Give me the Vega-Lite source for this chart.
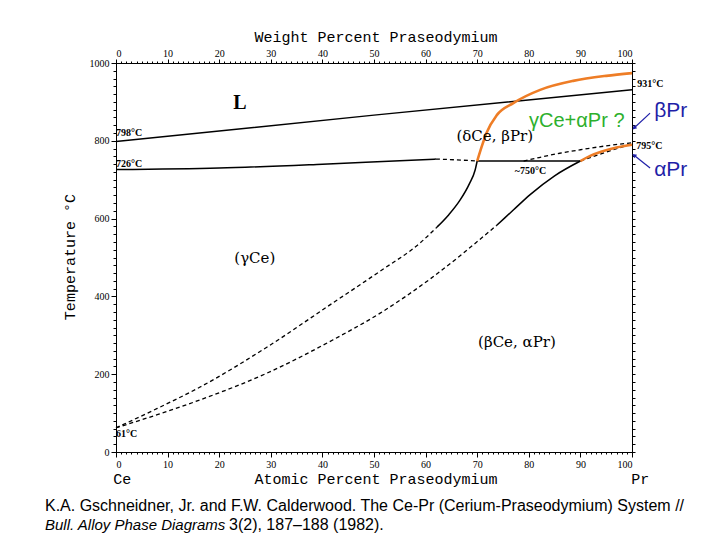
{
  "$schema": "https://vega.github.io/schema/vega-lite/v6.json",
  "width": 516,
  "height": 389,
  "autosize": {"type": "none"},
  "padding": {"left": 116, "top": 63, "right": 88, "bottom": 88},
  "background": "white",
  "config": {
    "view": {"stroke": "black", "strokeWidth": 1},
    "axis": {"grid": false, "domainColor": "black", "tickColor": "black", "labelColor": "black", "labelFont": "Liberation Serif", "labelFontSize": 10, "domainWidth": 1, "tickWidth": 1}
  },
  "datasets": {
    "curves": [
      {"curve": "liquidus", "kind": "solid", "x": 0, "T": 798},
      {"curve": "liquidus", "kind": "solid", "x": 50, "T": 866},
      {"curve": "liquidus", "kind": "solid", "x": 100, "T": 931},
      {"curve": "gamma_delta", "kind": "solid", "x": 0, "T": 726},
      {"curve": "gamma_delta", "kind": "solid", "x": 20, "T": 730},
      {"curve": "gamma_delta", "kind": "solid", "x": 40, "T": 740},
      {"curve": "gamma_delta", "kind": "solid", "x": 55, "T": 749},
      {"curve": "gamma_delta", "kind": "solid", "x": 62, "T": 753},
      {"curve": "eutectoid", "kind": "solid", "x": 70, "T": 748},
      {"curve": "eutectoid", "kind": "solid", "x": 90, "T": 748},
      {"curve": "left_solvus", "kind": "solid", "x": 62.2, "T": 578},
      {"curve": "left_solvus", "kind": "solid", "x": 64.5, "T": 610},
      {"curve": "left_solvus", "kind": "solid", "x": 66.7, "T": 648},
      {"curve": "left_solvus", "kind": "solid", "x": 68.5, "T": 690},
      {"curve": "left_solvus", "kind": "solid", "x": 69.6, "T": 725},
      {"curve": "left_solvus", "kind": "solid", "x": 70, "T": 748},
      {"curve": "right_solvus", "kind": "solid", "x": 73.8, "T": 583},
      {"curve": "right_solvus", "kind": "solid", "x": 77, "T": 622},
      {"curve": "right_solvus", "kind": "solid", "x": 80.2, "T": 661},
      {"curve": "right_solvus", "kind": "solid", "x": 85, "T": 710},
      {"curve": "right_solvus", "kind": "solid", "x": 90, "T": 748},
      {"curve": "gamma_delta_d", "kind": "dashed", "x": 62, "T": 753},
      {"curve": "gamma_delta_d", "kind": "dashed", "x": 66, "T": 751},
      {"curve": "gamma_delta_d", "kind": "dashed", "x": 70, "T": 748},
      {"curve": "left_solvus_d", "kind": "dashed", "x": 0, "T": 62},
      {"curve": "left_solvus_d", "kind": "dashed", "x": 8, "T": 112},
      {"curve": "left_solvus_d", "kind": "dashed", "x": 16.3, "T": 167},
      {"curve": "left_solvus_d", "kind": "dashed", "x": 29.3, "T": 270},
      {"curve": "left_solvus_d", "kind": "dashed", "x": 42, "T": 383},
      {"curve": "left_solvus_d", "kind": "dashed", "x": 51.2, "T": 465},
      {"curve": "left_solvus_d", "kind": "dashed", "x": 58.9, "T": 537},
      {"curve": "left_solvus_d", "kind": "dashed", "x": 62.2, "T": 578},
      {"curve": "right_solvus_d", "kind": "dashed", "x": 0, "T": 62},
      {"curve": "right_solvus_d", "kind": "dashed", "x": 8, "T": 96},
      {"curve": "right_solvus_d", "kind": "dashed", "x": 16.3, "T": 134},
      {"curve": "right_solvus_d", "kind": "dashed", "x": 29.3, "T": 203},
      {"curve": "right_solvus_d", "kind": "dashed", "x": 42, "T": 288},
      {"curve": "right_solvus_d", "kind": "dashed", "x": 51.2, "T": 357},
      {"curve": "right_solvus_d", "kind": "dashed", "x": 60.9, "T": 445},
      {"curve": "right_solvus_d", "kind": "dashed", "x": 73.8, "T": 583},
      {"curve": "upper_right_d", "kind": "dashed", "x": 79, "T": 748},
      {"curve": "upper_right_d", "kind": "dashed", "x": 82, "T": 757},
      {"curve": "upper_right_d", "kind": "dashed", "x": 86, "T": 768},
      {"curve": "upper_right_d", "kind": "dashed", "x": 90, "T": 777},
      {"curve": "upper_right_d", "kind": "dashed", "x": 95, "T": 787},
      {"curve": "upper_right_d", "kind": "dashed", "x": 100, "T": 795},
      {"curve": "lower_right_d", "kind": "dashed", "x": 90, "T": 748},
      {"curve": "lower_right_d", "kind": "dashed", "x": 95, "T": 771},
      {"curve": "lower_right_d", "kind": "dashed", "x": 100, "T": 792},
      {"curve": "orange_upper", "kind": "proposed", "x": 70, "T": 748},
      {"curve": "orange_upper", "kind": "proposed", "x": 71, "T": 790},
      {"curve": "orange_upper", "kind": "proposed", "x": 71.8, "T": 820},
      {"curve": "orange_upper", "kind": "proposed", "x": 73.8, "T": 866},
      {"curve": "orange_upper", "kind": "proposed", "x": 77, "T": 897},
      {"curve": "orange_upper", "kind": "proposed", "x": 82.2, "T": 931},
      {"curve": "orange_upper", "kind": "proposed", "x": 88.6, "T": 954},
      {"curve": "orange_upper", "kind": "proposed", "x": 95, "T": 967},
      {"curve": "orange_upper", "kind": "proposed", "x": 100, "T": 974},
      {"curve": "orange_lower", "kind": "proposed", "x": 90, "T": 748},
      {"curve": "orange_lower", "kind": "proposed", "x": 92, "T": 762},
      {"curve": "orange_lower", "kind": "proposed", "x": 94, "T": 772},
      {"curve": "orange_lower", "kind": "proposed", "x": 97, "T": 783},
      {"curve": "orange_lower", "kind": "proposed", "x": 100, "T": 790}
    ],
    "labels": [
      {"role": "phase", "text": "(δCe, βPr)", "x": 73.4, "T": 812},
      {"role": "phase", "text": "(γCe)", "x": 26.9, "T": 499},
      {"role": "phase", "text": "(βCe, αPr)", "x": 77.7, "T": 283},
      {"role": "big", "text": "L", "x": 24, "T": 897},
      {"role": "temp", "text": "798°C", "x": 0, "T": 820},
      {"role": "temp", "text": "726°C", "x": 0, "T": 740},
      {"role": "temp", "text": "931°C", "x": 101, "T": 946},
      {"role": "temp", "text": "795°C", "x": 100.8, "T": 787},
      {"role": "temp", "text": "~750°C", "x": 77.3, "T": 722},
      {"role": "temp", "text": "61°C", "x": 0, "T": 46},
      {"role": "axistitle", "text": "Weight Percent Praseodymium", "x": 50.4, "T": 1067},
      {"role": "axistitle", "text": "Atomic Percent Praseodymium", "x": 50.4, "T": -69},
      {"role": "axistitle", "text": "Ce", "x": 1.2, "T": -69},
      {"role": "axistitle", "text": "Pr", "x": 101.6, "T": -69},
      {"role": "green", "text": "γCe+αPr ?", "x": 89.3, "T": 851},
      {"role": "blue", "text": "βPr", "x": 104.3, "T": 877},
      {"role": "blue", "text": "αPr", "x": 104.3, "T": 725},
      {"role": "cite", "text": "K.A. Gschneidner, Jr. and F.W. Calderwood. The Ce-Pr (Cerium-Praseodymium) System //", "x": -13.76, "T": -138},
      {"role": "citeitalic", "text": "Bull. Alloy Phase Diagrams", "x": -13.76, "T": -188},
      {"role": "cite2", "text": "3(2), 187–188 (1982).", "x": 21.9, "T": -188},
      {"role": "ytitle", "text": "Temperature °C", "x": -8.9, "T": 501}
    ],
    "arrows": [
      {"arrow": "beta", "x": 103.5, "T": 871, "x2": 100.4, "T2": 833},
      {"arrow": "alpha", "x": 103.5, "T": 730, "x2": 100.4, "T2": 763}
    ]
  },
  "resolve": {"axis": {"x": "independent", "y": "independent"}},
  "layer": [
    {
      "data": {"name": "curves"},
      "transform": [{"filter": "datum.kind === 'solid'"}],
      "mark": {"type": "line", "color": "black", "strokeWidth": 1.5, "interpolate": "monotone"},
      "encoding": {
        "detail": {"field": "curve"},
        "x": {"field": "x", "type": "quantitative", "scale": {"domain": [0, 100], "nice": false, "zero": false},
          "axis": {"orient": "bottom", "title": null, "values": [0, 10, 20, 30, 40, 50, 60, 70, 80, 90, 100], "format": "d", "tickSize": 5, "labelPadding": 2}},
        "y": {"field": "T", "type": "quantitative", "scale": {"domain": [0, 1000], "nice": false, "zero": false},
          "axis": {"orient": "left", "title": null, "values": [0, 200, 400, 600, 800, 1000], "format": "d", "tickSize": 5, "labelPadding": 2}}
      }
    },
    {
      "data": {"name": "curves"},
      "transform": [{"filter": "datum.kind === 'dashed'"}],
      "mark": {"type": "line", "color": "black", "strokeWidth": 1.3, "strokeDash": [4, 3], "interpolate": "monotone"},
      "encoding": {
        "detail": {"field": "curve"},
        "x": {"field": "x", "type": "quantitative", "scale": {"domain": [0, 100], "nice": false, "zero": false},
          "axis": {"orient": "top", "title": null, "values": [0, 10, 20, 30, 40, 50, 60, 70, 80, 90, 100], "format": "d", "tickSize": 4, "labelPadding": 1}},
        "y": {"field": "T", "type": "quantitative", "scale": {"domain": [0, 1000], "nice": false, "zero": false},
          "axis": {"orient": "right", "title": null, "labels": false, "tickSize": 3, "values": [0, 20, 40, 60, 80, 100, 120, 140, 160, 180, 200, 220, 240, 260, 280, 300, 320, 340, 360, 380, 400, 420, 440, 460, 480, 500, 520, 540, 560, 580, 600, 620, 640, 660, 680, 700, 720, 740, 760, 780, 800, 820, 840, 860, 880, 900, 920, 940, 960, 980, 1000]}}
      }
    },
    {
      "data": {"name": "curves"},
      "transform": [{"filter": "datum.kind === 'proposed'"}],
      "mark": {"type": "line", "color": "#EE7D26", "strokeWidth": 2.6, "interpolate": "monotone"},
      "encoding": {
        "detail": {"field": "curve"},
        "x": {"field": "x", "type": "quantitative", "scale": {"domain": [0, 100], "nice": false, "zero": false},
          "axis": {"orient": "bottom", "title": null, "labels": false, "domain": false, "tickSize": 2, "values": [0, 1, 2, 3, 4, 5, 6, 7, 8, 9, 10, 11, 12, 13, 14, 15, 16, 17, 18, 19, 20, 21, 22, 23, 24, 25, 26, 27, 28, 29, 30, 31, 32, 33, 34, 35, 36, 37, 38, 39, 40, 41, 42, 43, 44, 45, 46, 47, 48, 49, 50, 51, 52, 53, 54, 55, 56, 57, 58, 59, 60, 61, 62, 63, 64, 65, 66, 67, 68, 69, 70, 71, 72, 73, 74, 75, 76, 77, 78, 79, 80, 81, 82, 83, 84, 85, 86, 87, 88, 89, 90, 91, 92, 93, 94, 95, 96, 97, 98, 99, 100]}},
        "y": {"field": "T", "type": "quantitative", "scale": {"domain": [0, 1000], "nice": false, "zero": false},
          "axis": {"orient": "left", "title": null, "labels": false, "domain": false, "tickSize": 3, "values": [0, 20, 40, 60, 80, 100, 120, 140, 160, 180, 200, 220, 240, 260, 280, 300, 320, 340, 360, 380, 400, 420, 440, 460, 480, 500, 520, 540, 560, 580, 600, 620, 640, 660, 680, 700, 720, 740, 760, 780, 800, 820, 840, 860, 880, 900, 920, 940, 960, 980, 1000]}}
      }
    },
    {
      "data": {"name": "arrows"},
      "mark": {"type": "rule", "color": "#1F1FA8", "strokeWidth": 1.2},
      "encoding": {
        "x": {"field": "x", "type": "quantitative", "scale": {"domain": [0, 100], "nice": false, "zero": false},
          "axis": {"orient": "top", "title": null, "labels": false, "domain": false, "tickSize": 2, "values": [0, 1, 2, 3, 4, 5, 6, 7, 8, 9, 10, 11, 12, 13, 14, 15, 16, 17, 18, 19, 20, 21, 22, 23, 24, 25, 26, 27, 28, 29, 30, 31, 32, 33, 34, 35, 36, 37, 38, 39, 40, 41, 42, 43, 44, 45, 46, 47, 48, 49, 50, 51, 52, 53, 54, 55, 56, 57, 58, 59, 60, 61, 62, 63, 64, 65, 66, 67, 68, 69, 70, 71, 72, 73, 74, 75, 76, 77, 78, 79, 80, 81, 82, 83, 84, 85, 86, 87, 88, 89, 90, 91, 92, 93, 94, 95, 96, 97, 98, 99, 100]}},
        "y": {"field": "T", "type": "quantitative", "scale": {"domain": [0, 1000], "nice": false, "zero": false}, "axis": null},
        "x2": {"field": "x2"},
        "y2": {"field": "T2"}
      }
    },
    {
      "data": {"name": "arrows"},
      "transform": [{"filter": "datum.arrow === 'beta'"}],
      "mark": {"type": "point", "shape": "triangle-up", "filled": true, "color": "#1F1FA8", "size": 22, "angle": 225, "opacity": 1},
      "encoding": {
        "x": {"field": "x2", "type": "quantitative", "scale": {"domain": [0, 100], "nice": false, "zero": false}, "axis": null},
        "y": {"field": "T2", "type": "quantitative", "scale": {"domain": [0, 1000], "nice": false, "zero": false}, "axis": null}
      }
    },
    {
      "data": {"name": "arrows"},
      "transform": [{"filter": "datum.arrow === 'alpha'"}],
      "mark": {"type": "point", "shape": "triangle-up", "filled": true, "color": "#1F1FA8", "size": 22, "angle": 309, "opacity": 1},
      "encoding": {
        "x": {"field": "x2", "type": "quantitative", "scale": {"domain": [0, 100], "nice": false, "zero": false}, "axis": null},
        "y": {"field": "T2", "type": "quantitative", "scale": {"domain": [0, 1000], "nice": false, "zero": false}, "axis": null}
      }
    },
    {
      "data": {"name": "labels"},
      "transform": [{"filter": "datum.role === 'phase'"}],
      "mark": {"type": "text", "font": "DejaVu Serif", "fontSize": 15, "color": "black", "align": "center", "baseline": "middle"},
      "encoding": {
        "x": {"field": "x", "type": "quantitative", "scale": {"domain": [0, 100], "nice": false, "zero": false}, "axis": null},
        "y": {"field": "T", "type": "quantitative", "scale": {"domain": [0, 1000], "nice": false, "zero": false}, "axis": null},
        "text": {"field": "text"}
      }
    },
    {
      "data": {"name": "labels"},
      "transform": [{"filter": "datum.role === 'big'"}],
      "mark": {"type": "text", "font": "Liberation Serif", "fontSize": 20, "fontWeight": "bold", "color": "black", "align": "center", "baseline": "middle"},
      "encoding": {
        "x": {"field": "x", "type": "quantitative", "scale": {"domain": [0, 100], "nice": false, "zero": false}, "axis": null},
        "y": {"field": "T", "type": "quantitative", "scale": {"domain": [0, 1000], "nice": false, "zero": false}, "axis": null},
        "text": {"field": "text"}
      }
    },
    {
      "data": {"name": "labels"},
      "transform": [{"filter": "datum.role === 'temp'"}],
      "mark": {"type": "text", "font": "Liberation Serif", "fontSize": 10, "fontWeight": "bold", "color": "black", "align": "left", "baseline": "middle"},
      "encoding": {
        "x": {"field": "x", "type": "quantitative", "scale": {"domain": [0, 100], "nice": false, "zero": false}, "axis": null},
        "y": {"field": "T", "type": "quantitative", "scale": {"domain": [0, 1000], "nice": false, "zero": false}, "axis": null},
        "text": {"field": "text"}
      }
    },
    {
      "data": {"name": "labels"},
      "transform": [{"filter": "datum.role === 'axistitle'"}],
      "mark": {"type": "text", "font": "Liberation Mono", "fontSize": 15, "color": "black", "align": "center", "baseline": "middle"},
      "encoding": {
        "x": {"field": "x", "type": "quantitative", "scale": {"domain": [0, 100], "nice": false, "zero": false}, "axis": null},
        "y": {"field": "T", "type": "quantitative", "scale": {"domain": [0, 1000], "nice": false, "zero": false}, "axis": null},
        "text": {"field": "text"}
      }
    },
    {
      "data": {"name": "labels"},
      "transform": [{"filter": "datum.role === 'ytitle'"}],
      "mark": {"type": "text", "font": "Liberation Mono", "fontSize": 15, "color": "black", "align": "center", "baseline": "middle", "angle": 270},
      "encoding": {
        "x": {"field": "x", "type": "quantitative", "scale": {"domain": [0, 100], "nice": false, "zero": false}, "axis": null},
        "y": {"field": "T", "type": "quantitative", "scale": {"domain": [0, 1000], "nice": false, "zero": false}, "axis": null},
        "text": {"field": "text"}
      }
    },
    {
      "data": {"name": "labels"},
      "transform": [{"filter": "datum.role === 'green'"}],
      "mark": {"type": "text", "font": "Liberation Sans", "fontSize": 20, "color": "#2DB02D", "align": "center", "baseline": "middle"},
      "encoding": {
        "x": {"field": "x", "type": "quantitative", "scale": {"domain": [0, 100], "nice": false, "zero": false}, "axis": null},
        "y": {"field": "T", "type": "quantitative", "scale": {"domain": [0, 1000], "nice": false, "zero": false}, "axis": null},
        "text": {"field": "text"}
      }
    },
    {
      "data": {"name": "labels"},
      "transform": [{"filter": "datum.role === 'blue'"}],
      "mark": {"type": "text", "font": "Liberation Sans", "fontSize": 21, "color": "#1F1FA8", "align": "left", "baseline": "middle"},
      "encoding": {
        "x": {"field": "x", "type": "quantitative", "scale": {"domain": [0, 100], "nice": false, "zero": false}, "axis": null},
        "y": {"field": "T", "type": "quantitative", "scale": {"domain": [0, 1000], "nice": false, "zero": false}, "axis": null},
        "text": {"field": "text"}
      }
    },
    {
      "data": {"name": "labels"},
      "transform": [{"filter": "datum.role === 'cite'"}],
      "mark": {"type": "text", "font": "Liberation Sans", "fontSize": 16, "color": "black", "align": "left", "baseline": "middle"},
      "encoding": {
        "x": {"field": "x", "type": "quantitative", "scale": {"domain": [0, 100], "nice": false, "zero": false}, "axis": null},
        "y": {"field": "T", "type": "quantitative", "scale": {"domain": [0, 1000], "nice": false, "zero": false}, "axis": null},
        "text": {"field": "text"}
      }
    },
    {
      "data": {"name": "labels"},
      "transform": [{"filter": "datum.role === 'cite2'"}],
      "mark": {"type": "text", "font": "Liberation Sans", "fontSize": 16, "color": "black", "align": "left", "baseline": "middle"},
      "encoding": {
        "x": {"field": "x", "type": "quantitative", "scale": {"domain": [0, 100], "nice": false, "zero": false}, "axis": null},
        "y": {"field": "T", "type": "quantitative", "scale": {"domain": [0, 1000], "nice": false, "zero": false}, "axis": null},
        "text": {"field": "text"}
      }
    },
    {
      "data": {"name": "labels"},
      "transform": [{"filter": "datum.role === 'citeitalic'"}],
      "mark": {"type": "text", "font": "Liberation Sans", "fontSize": 15, "fontStyle": "italic", "color": "black", "align": "left", "baseline": "middle"},
      "encoding": {
        "x": {"field": "x", "type": "quantitative", "scale": {"domain": [0, 100], "nice": false, "zero": false}, "axis": null},
        "y": {"field": "T", "type": "quantitative", "scale": {"domain": [0, 1000], "nice": false, "zero": false}, "axis": null},
        "text": {"field": "text"}
      }
    }
  ]
}
